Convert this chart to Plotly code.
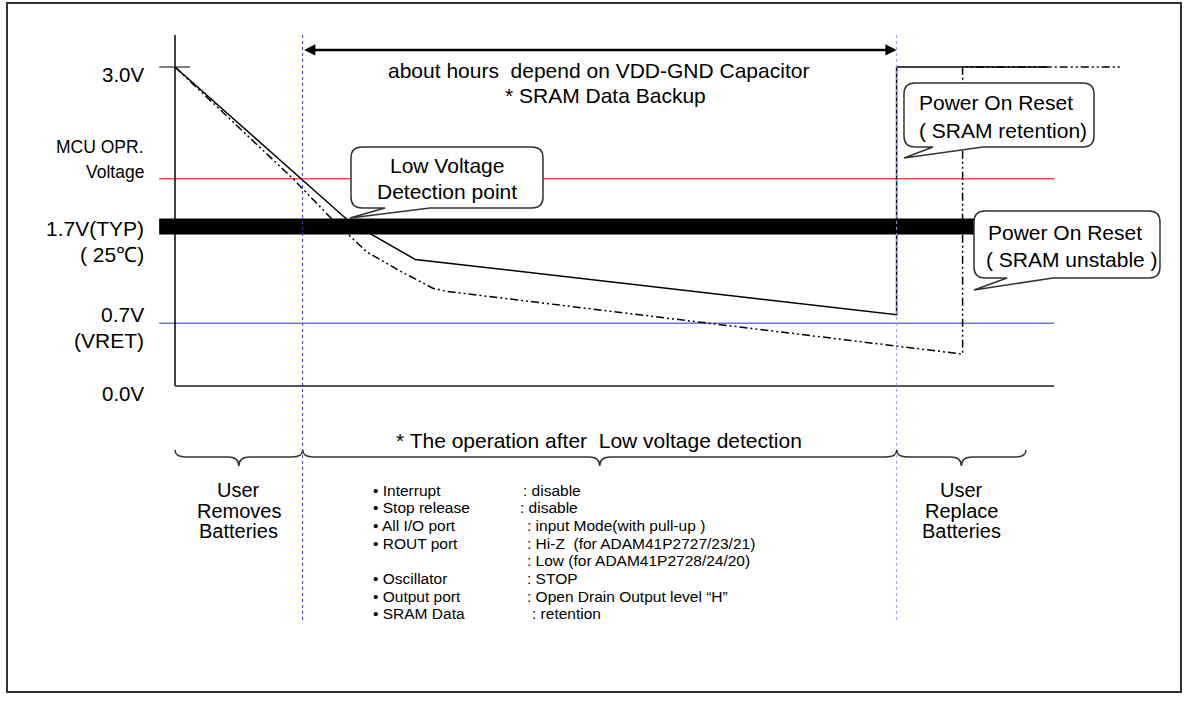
import plotly.graph_objects as go

# voltage curves: time in % of the window, voltage in diagram volts
time_retain = [0, 19.9, 27.3, 82.0, 82.0, 99.4]
volt_retain = [3.0, 1.54, 1.19, 0.67, 3.0, 3.0]
time_unstable = [0, 13.4, 17.6, 19.9, 21.8, 25.6, 29.3, 30.9, 68.8, 89.5, 89.5, 107.4]
volt_unstable = [3.0, 1.95, 1.59, 1.41, 1.26, 1.08, 0.92, 0.89, 0.51, 0.30, 3.0, 3.0]

# reference levels: MCU operating voltage, LVD point, VRET
level_volts = [1.95, 1.50, 0.59]
level_colors = ['#ee4b4b', 'black', '#7373db']
level_widths = [1.5, 16, 1.5]

# low voltage detected / batteries replaced
event_times = [14.5, 82.0]
event_colors = ['#3a3ad6', '#9a9ae6']

level_labels = [["3.0V"], ["MCU OPR.", "Voltage"], ["1.7V(TYP)", "( 25℃)"], ["0.7V", "(VRET)"], ["0.0V"]]
top_text = ["about hours  depend on VDD-GND Capacitor", "* SRAM Data Backup"]
callout_texts = [["Low Voltage", "Detection point"],
                 ["Power On Reset", "( SRAM retention)"],
                 ["Power On Reset", "( SRAM unstable )"]]
phase_title = "* The operation after  Low voltage detection"
removes_text = ["User", "Removes", "Batteries"]
replace_text = ["User", "Replace", "Batteries"]
bullet_items = ["Interrupt", "Stop release", "All I/O port", "ROUT port", "",
                "Oscillator", "Output port", "SRAM Data"]
bullet_values = [": disable", ": disable", ": input Mode(with pull-up )",
                 ": Hi-Z  (for ADAM41P2727/23/21)", ": Low (for ADAM41P2728/24/20)",
                 ": STOP", ": Open Drain Output level “H”", ": retention"]

W, H = 1188, 705
FONT = "Liberation Sans, Arial, sans-serif"


def X(p):
    return p / W


def Y(p):
    return 1 - p / H


def label(fig, x, y, s, anchor='center', size=21):
    fig.add_annotation(x=X(x), y=Y(y), xref='paper', yref='paper', text=s.replace("  ", "\u00a0 "),
                       showarrow=False, xanchor=anchor, yanchor='middle',
                       font=dict(family=FONT, size=size, color='black'))


def brace(x0, x1, y_end=450, y_line=457, y_tip=466, r=11):
    xm = (x0 + x1) / 2
    return (f"M{X(x0)},{Y(y_end)} Q{X(x0)},{Y(y_line)} {X(x0 + r)},{Y(y_line)} "
            f"L{X(xm - r)},{Y(y_line)} Q{X(xm)},{Y(y_line)} {X(xm)},{Y(y_tip)} "
            f"Q{X(xm)},{Y(y_line)} {X(xm + r)},{Y(y_line)} L{X(x1 - r)},{Y(y_line)} "
            f"Q{X(x1)},{Y(y_line)} {X(x1)},{Y(y_end)}")


def callout(x0, y0, x1, y1, tip, base, r=11):
    tx, ty = tip
    b0, b1 = base
    pts = [f"M{X(x0 + r)},{Y(y0)}", f"L{X(x1 - r)},{Y(y0)}", f"Q{X(x1)},{Y(y0)} {X(x1)},{Y(y0 + r)}",
           f"L{X(x1)},{Y(y1 - r)}", f"Q{X(x1)},{Y(y1)} {X(x1 - r)},{Y(y1)}",
           f"L{X(b1)},{Y(y1)}", f"L{X(tx)},{Y(ty)}", f"L{X(b0)},{Y(y1)}",
           f"L{X(x0 + r)},{Y(y1)}", f"Q{X(x0)},{Y(y1)} {X(x0)},{Y(y1 - r)}",
           f"L{X(x0)},{Y(y0 + r)}", f"Q{X(x0)},{Y(y0)} {X(x0 + r)},{Y(y0)}", "Z"]
    return " ".join(pts)


fig = go.Figure()

# reference level lines
for v, c, w in zip(level_volts, level_colors, level_widths):
    fig.add_trace(go.Scatter(x=[-1.8, 99.9], y=[v, v], mode='lines',
                             line=dict(color=c, width=w), hoverinfo='skip'))

# axes
fig.add_trace(go.Scatter(x=[0, 0], y=[0, 3.30], mode='lines', line=dict(color='black', width=1.5)))
fig.add_trace(go.Scatter(x=[0, 99.9], y=[0, 0], mode='lines', line=dict(color='#555555', width=2)))
fig.add_trace(go.Scatter(x=[-1.8, 1.7], y=[3.0, 3.0], mode='lines', line=dict(color='#555555', width=1.5)))

# supply voltage curves
fig.add_trace(go.Scatter(x=time_retain, y=volt_retain, mode='lines',
                         line=dict(color='black', width=1.5)))
fig.add_trace(go.Scatter(x=time_unstable, y=volt_unstable, mode='lines',
                         line=dict(color='black', width=1.5, dash='8px,3px,2px,3px,2px,3px')))

# event markers
for t, c in zip(event_times, event_colors):
    fig.add_shape(type='line', x0=t, x1=t, y0=-2.20, y1=3.30, xref='x', yref='y',
                  line=dict(color=c, width=1, dash='dot'), layer='above')

# duration arrow
fig.add_annotation(x=event_times[1], y=3.16, ax=event_times[0], ay=3.16, xref='x', yref='y',
                   axref='x', ayref='y', text='', showarrow=True, arrowhead=2, arrowsize=0.9,
                   arrowwidth=2.5, arrowcolor='black', arrowside='end+start')

# callout boxes
boxes = [(351, 147, 543, 208, (350, 218), (385, 430)),
         (904, 83, 1094, 147, (904, 158), (933, 983)),
         (974, 211, 1160, 278, (974, 290), (1007, 1053))]
for b in boxes:
    fig.add_shape(type='path', path=callout(*b), xref='paper', yref='paper',
                  fillcolor='white', line=dict(color='#333333', width=1.5), layer='above')

# braces below the chart
for x0, x1 in [(175, 302.7), (302.7, 896.7), (896.7, 1026)]:
    fig.add_shape(type='path', path=brace(x0, x1), xref='paper', yref='paper',
                  line=dict(color='#333333', width=1.5))

# outer frame
fig.add_shape(type='rect', x0=X(7), x1=X(1181), y0=Y(3), y1=Y(692), xref='paper', yref='paper',
              line=dict(color='#333333', width=2))

# level labels
label_rows = [[74.5], [147, 172.5], [228, 254.5], [314, 340], [393.5]]
label_sizes = [20.5, 17.5, 21, 21, 20.5]
for lines, rows, sz in zip(level_labels, label_rows, label_sizes):
    for s, y in zip(lines, rows):
        label(fig, 146, y, s, anchor='right', size=sz)

label(fig, 598, 70, top_text[0])
label(fig, 605, 96, top_text[1])

label(fig, 446.5, 165, callout_texts[0][0])
label(fig, 447, 191, callout_texts[0][1])
label(fig, 917, 103, callout_texts[1][0], anchor='left')
label(fig, 917, 131, callout_texts[1][1], anchor='left')
label(fig, 986, 232, callout_texts[2][0], anchor='left')
label(fig, 984, 259, callout_texts[2][1], anchor='left')

label(fig, 599, 440, phase_title)
rows = [490, 510.5, 531]
for s, y in zip(removes_text, rows):
    label(fig, 238.5, y, s, size=20)
for s, y in zip(replace_text, rows):
    label(fig, 961.5, y, s, size=20)

value_x = [521, 518, 525, 525, 525, 525, 525, 530]
for i, (item, val) in enumerate(zip(bullet_items, bullet_values)):
    y = 490 + i * 17.7
    if item:
        label(fig, 371, y, "• " + item, anchor='left', size=15.5)
    label(fig, value_x[i], y, val, anchor='left', size=15.5)

fig.update_layout(
    width=W, height=H,
    margin=dict(l=0, r=0, t=0, b=0),
    paper_bgcolor='white', plot_bgcolor='white',
    showlegend=False,
    xaxis=dict(range=[-175 / 8.8, (W - 175) / 8.8], visible=False, fixedrange=True),
    yaxis=dict(range=[-3.0, 386 / 106.333], visible=False, fixedrange=True),
)

fig.write_html("out.html", config={'displayModeBar': False},
               post_script="document.body.style.margin='0px';")
